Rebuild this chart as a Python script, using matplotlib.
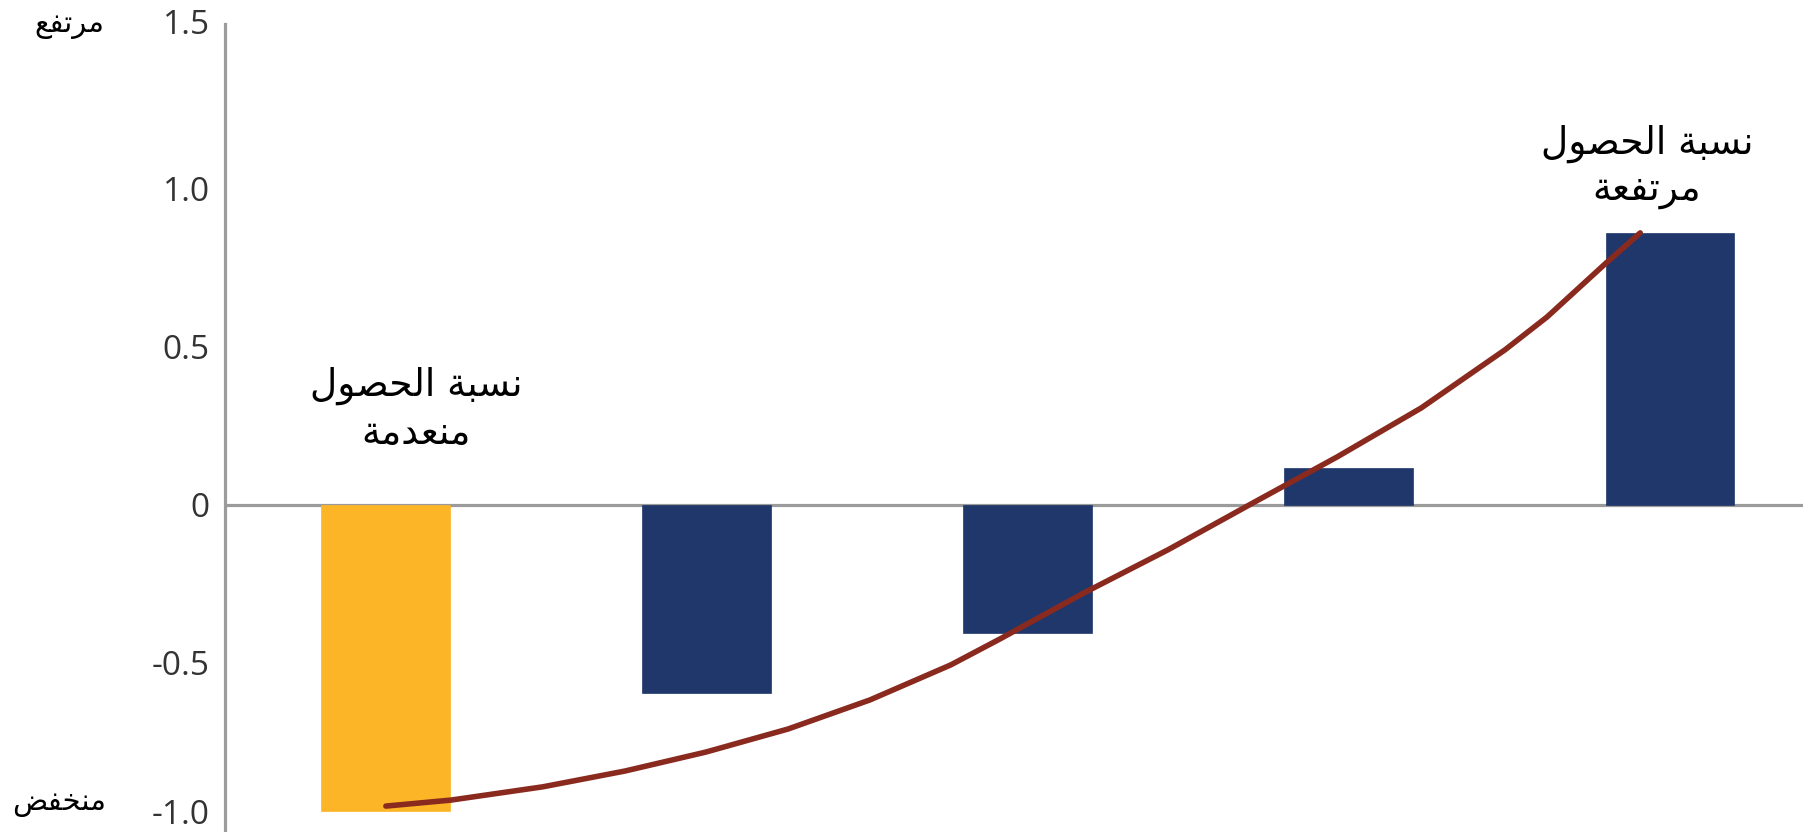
import matplotlib
matplotlib.use("Agg")
import matplotlib.pyplot as plt
import matplotlib.transforms as mtransforms
import numpy as np

# datos de las barras
valores = [-0.97, -0.595, -0.405, 0.117, 0.86]
colores = ["#FDB528", "#1F376B", "#1F376B", "#1F376B", "#1F376B"]

# curva de tendencia
curva_x = [0.001, 0.204, 0.490, 0.746, 0.998, 1.254, 1.509, 1.761, 1.914, 2.176,
           2.437, 2.701, 2.964, 3.226, 3.487, 3.618, 3.802, 3.908]
curva_y = [-0.953, -0.934, -0.892, -0.842, -0.782, -0.709, -0.617, -0.506, -0.424, -0.278,
           -0.142, 0.006, 0.152, 0.307, 0.491, 0.595, 0.766, 0.861]

# ejes
ticks = [-1.0, -0.5, 0, 0.5, 1.0, 1.5]
tick_labels = ["-1.0", "-0.5", "0", "0.5", "1.0", "1.5"]

etiqueta_alto = "مرتفع"
etiqueta_bajo = "منخفض"
nota_izq = "نسبة الحصول\nمنعدمة"
nota_der = "نسبة الحصول\nمرتفعة"

# formas de presentación árabes: (aislada, final, inicial, medial)
FORMAS = {
    "ا": ("\uFE8D", "\uFE8E", None, None),
    "ب": ("\uFE8F", "\uFE90", "\uFE91", "\uFE92"),
    "ة": ("\uFE93", "\uFE94", None, None),
    "ت": ("\uFE95", "\uFE96", "\uFE97", "\uFE98"),
    "ح": ("\uFEA1", "\uFEA2", "\uFEA3", "\uFEA4"),
    "خ": ("\uFEA5", "\uFEA6", "\uFEA7", "\uFEA8"),
    "د": ("\uFEA9", "\uFEAA", None, None),
    "ر": ("\uFEAD", "\uFEAE", None, None),
    "س": ("\uFEB1", "\uFEB2", "\uFEB3", "\uFEB4"),
    "ص": ("\uFEB9", "\uFEBA", "\uFEBB", "\uFEBC"),
    "ض": ("\uFEBD", "\uFEBE", "\uFEBF", "\uFEC0"),
    "ع": ("\uFEC9", "\uFECA", "\uFECB", "\uFECC"),
    "ف": ("\uFED1", "\uFED2", "\uFED3", "\uFED4"),
    "ل": ("\uFEDD", "\uFEDE", "\uFEDF", "\uFEE0"),
    "م": ("\uFEE1", "\uFEE2", "\uFEE3", "\uFEE4"),
    "ن": ("\uFEE5", "\uFEE6", "\uFEE7", "\uFEE8"),
    "و": ("\uFEED", "\uFEEE", None, None),
}


def dual(c):
    return c in FORMAS and FORMAS[c][2] is not None


def arabe(texto):
    # une las letras y las pone en orden visual (de izquierda a derecha)
    lineas = []
    for linea in texto.split("\n"):
        salida = []
        for i, c in enumerate(linea):
            if c not in FORMAS:
                salida.append(c)
                continue
            prev = linea[i - 1] if i > 0 else ""
            sig = linea[i + 1] if i + 1 < len(linea) else ""
            une_prev = dual(prev)
            une_sig = dual(c) and sig in FORMAS
            f = FORMAS[c]
            if une_prev and une_sig:
                salida.append(f[3])
            elif une_prev:
                salida.append(f[1])
            elif une_sig:
                salida.append(f[2])
            else:
                salida.append(f[0])
        lineas.append("".join(salida)[::-1])
    return "\n".join(lineas)


fig = plt.figure(figsize=(18.1, 8.32), dpi=100)
ax = fig.add_axes([225 / 1810, 0, (1803 - 225) / 1810, 1 - 24 / 832])

x = np.arange(len(valores))
ax.bar(x, valores, width=0.40, color=colores, edgecolor=colores, linewidth=0.5, zorder=2)
ax.axhline(0, color="#9B9B9B", linewidth=2.3, zorder=1)
ax.plot(curva_x, curva_y, color="#8A2A1F", linewidth=4, solid_capstyle="round",
        solid_joinstyle="round", zorder=3)

ax.set_xlim(-0.5, 4.415)
ax.set_ylim(-1.035, 1.522)
ax.set_xticks([])
ax.set_yticks(ticks)
ax.set_yticklabels(tick_labels, fontfamily="Open Sans", fontsize=24, color="#333333")
ax.tick_params(axis="y", length=0, pad=11)

# subir un poco las etiquetas de los extremos
for lab in [ax.get_yticklabels()[0], ax.get_yticklabels()[-1]]:
    lab.set_transform(lab.get_transform() +
                      mtransforms.ScaledTranslation(0, 0.09, fig.dpi_scale_trans))

for lado in ["top", "right", "bottom"]:
    ax.spines[lado].set_visible(False)
ax.spines["left"].set_color("#9B9B9B")
ax.spines["left"].set_linewidth(2.3)

# textos en árabe
fig.text(69 / 1810, 1 - 25 / 832, arabe(etiqueta_alto), fontfamily="DejaVu Sans",
         fontsize=21, ha="center", va="center")
fig.text(59 / 1810, 1 - 803 / 832, arabe(etiqueta_bajo), fontfamily="DejaVu Sans",
         fontsize=21, ha="center", va="center")
fig.text(416 / 1810, 1 - 409 / 832, arabe(nota_izq), fontfamily="DejaVu Sans",
         fontsize=27, ha="center", va="center", linespacing=1.4)
fig.text(1647 / 1810, 1 - 167 / 832, arabe(nota_der), fontfamily="DejaVu Sans",
         fontsize=27, ha="center", va="center", linespacing=1.3)

fig.savefig("out.png", dpi=100)
